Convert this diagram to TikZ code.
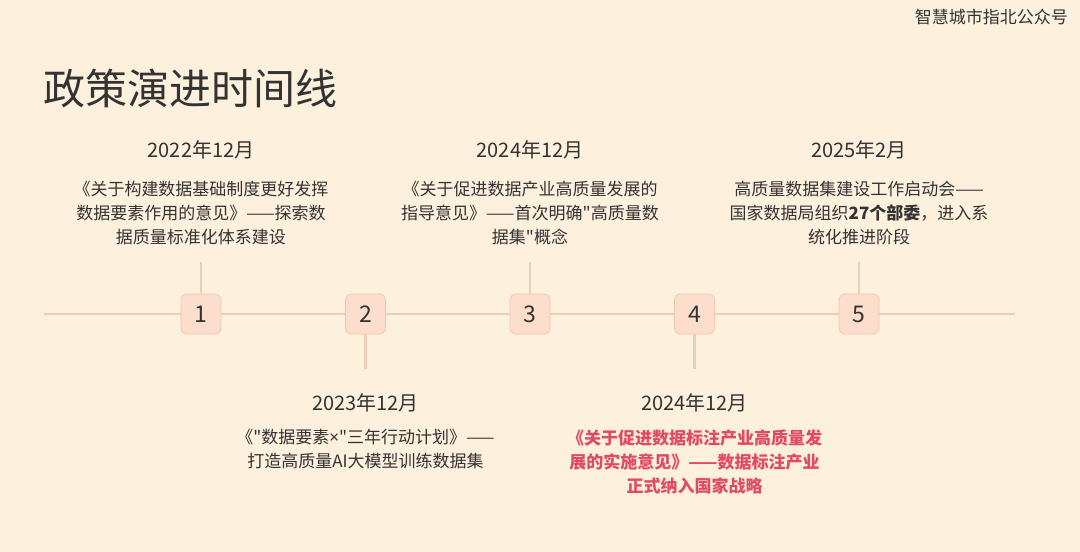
\documentclass[tikz,border=0pt]{standalone}
\usepackage{fontspec}
\setmainfont{Noto Sans CJK SC}
\newfontfamily\cjk{Noto Sans CJK SC}
\newfontfamily\latin{Noto Sans}
\usepackage{xcolor}
\definecolor{paper}{HTML}{FDF1DD}
\definecolor{ink}{HTML}{333333}
\definecolor{rail}{HTML}{EFCCB8}
\definecolor{chip}{HTML}{FDDDCB}
\definecolor{chipline}{HTML}{F1C6B1}
\definecolor{alert}{HTML}{E24A62}

\begin{document}
\begin{tikzpicture}[x=1pt,y=-1pt,
  every node/.style={inner sep=0pt,text=ink},
  chipbox/.style={fill=chip,draw=chipline,line width=0.8pt,rounded corners=6pt,minimum size=40pt,font=\cjk\fontsize{23}{23}\selectfont},
  datetag/.style={font=\cjk\fontsize{20}{24}\selectfont},
  note/.style={align=center,font=\cjk\fontsize{17}{24}\selectfont},
  stem/.style={draw=rail,line width=2.5pt}]
\fill[paper] (0,0) rectangle (1080,552);
\useasboundingbox (0,0) rectangle (1080,552);

\node[anchor=east,font=\cjk\fontsize{17}{17}\selectfont] (brand) at (1068,17) {智慧城市指北公众号};
\node[anchor=west,font=\cjk\fontsize{42}{42}\selectfont] (title) at (43,88) {政策演进时间线};

% timeline
\coordinate (rs) at (44,314);
\coordinate (re) at (1015,314);
\node[chipbox] (b1) at (201,314) {1};
\node[chipbox] (b2) at (365.5,314) {2};
\node[chipbox] (b3) at (530,314) {3};
\node[chipbox] (b4) at (694.5,314) {4};
\node[chipbox] (b5) at (859,314) {5};
\draw[stem] (rs) -- (b1) -- (b2) -- (b3) -- (b4) -- (b5) -- (re);

\coordinate (t1) at (201,262);
\coordinate (t2) at (365.5,369);
\coordinate (t3) at (530,262);
\coordinate (t4) at (694.5,369);
\coordinate (t5) at (859,262);
\foreach \i in {1,...,5} \draw[stem] (b\i) -- (t\i);

% events above
\node[datetag] (d1) at (201,150) {2022年12月};
\node[note] (n1) at (201,213.5) {《关于构建数据基础制度更好发挥\\数据要素作用的意见》——探索数\\据质量标准化体系建设};
\node[datetag] (d3) at (530,150) {2024年12月};
\node[note] (n3) at (530,213.5) {《关于促进数据产业高质量发展的\\指导意见》——首次明确"高质量数\\据集"概念};
\node[datetag] (d5) at (859,150) {2025年2月};
\node[note] (n5) at (859,213.5) {高质量数据集建设工作启动会——\\国家数据局组织{\bfseries 27个部委}，进入系\\统化推进阶段};

% events below
\node[datetag] (d2) at (365.5,403) {2023年12月};
\node[note] (n2) at (365.5,449) {《"数据要素{\latin ×}"三年行动计划》——\\打造高质量AI大模型训练数据集};
\node[datetag] (d4) at (694.5,403) {2024年12月};
\node[note,text=alert,font=\cjk\fontsize{17}{24}\selectfont\bfseries] (n4) at (694.5,461.5) {《关于促进数据标注产业高质量发\\展的实施意见》——数据标注产业\\正式纳入国家战略};
\end{tikzpicture}
\end{document}
